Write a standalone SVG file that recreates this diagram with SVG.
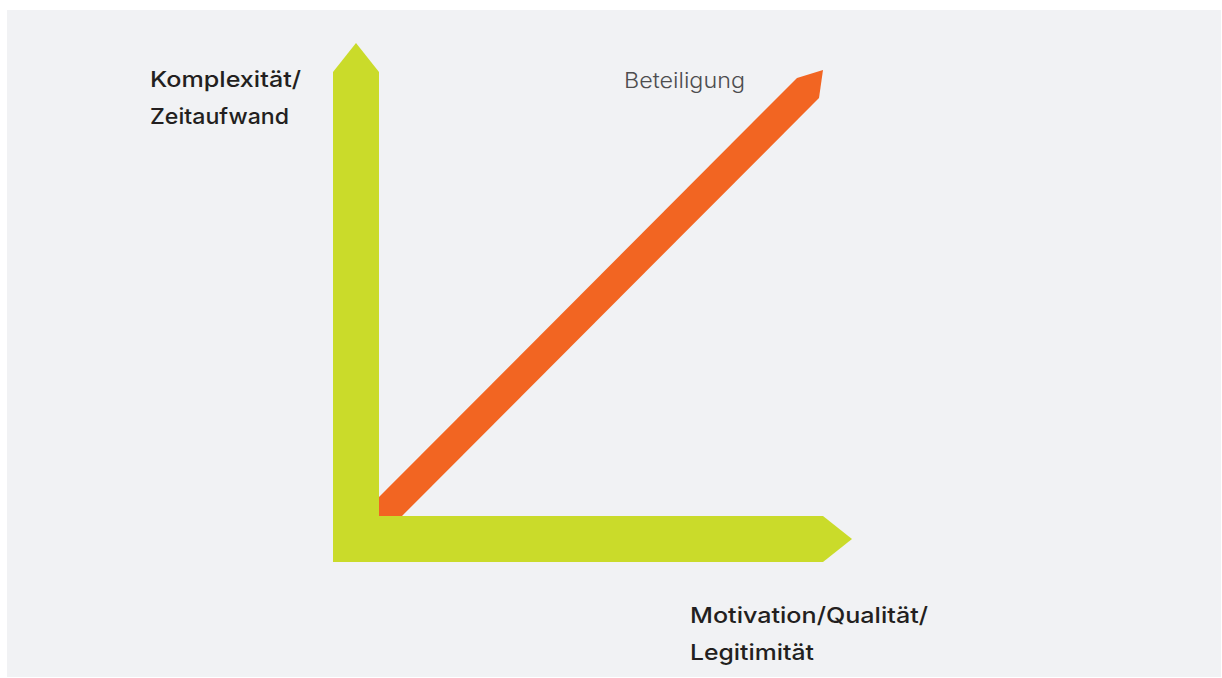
<svg xmlns="http://www.w3.org/2000/svg" width="1222" height="678" viewBox="0 0 1222 678">
<style>
.lbl{font-family:Inter,"Liberation Sans",sans-serif;font-size:22px;font-weight:500;fill:#231F20}
.lt{font-family:Inter,"Liberation Sans",sans-serif;font-size:22px;font-weight:300;fill:#4D4D4F}
.green{fill:#CADB2A}
.orange{fill:#F26522}
</style>
<rect x="0" y="0" width="1222" height="678" fill="#FFFFFF"/>
<rect x="7" y="10" width="1214" height="667" fill="#F1F2F4"/>
<g id="connectors">
<polygon id="beteiligung-arrow" class="orange" points="368,508 797,78 823,70 819,98 390,528"/>
<polygon id="y-axis" class="green" points="333,562 333,72 356,43 379,72 379,562"/>
<polygon id="x-axis" class="green" points="333,516 823,516 852,539 823,562 333,562"/>
</g>
<g id="label-y">
<text class="lbl" x="150" y="87" textLength="151" lengthAdjust="spacingAndGlyphs">Komplexität/</text>
<text class="lbl" x="150" y="124" textLength="139" lengthAdjust="spacingAndGlyphs">Zeitaufwand</text>
</g>
<g id="label-x">
<text class="lbl" x="690" y="623" textLength="238" lengthAdjust="spacingAndGlyphs">Motivation/Qualität/</text>
<text class="lbl" x="690" y="660" textLength="124" lengthAdjust="spacingAndGlyphs">Legitimität</text>
</g>
<g id="label-diag">
<text class="lt" x="624" y="88" textLength="121" lengthAdjust="spacingAndGlyphs">Beteiligung</text>
</g>
</svg>
